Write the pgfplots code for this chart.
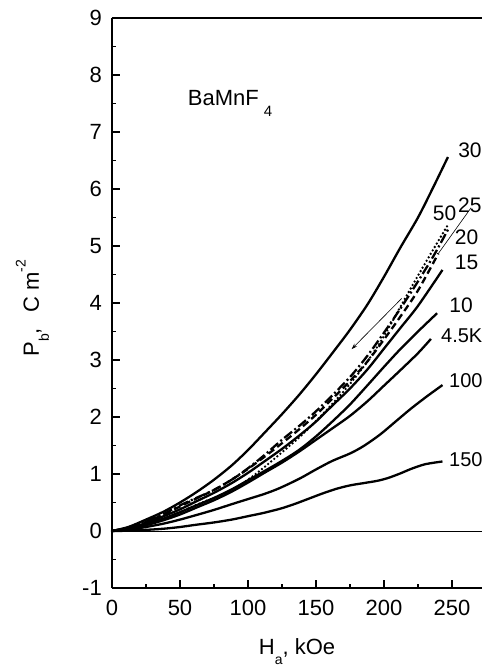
\documentclass[border=0pt]{standalone}
\usepackage{fontspec}
\setmainfont{Liberation Sans}
\usepackage{pgfplots}
\pgfplotsset{compat=1.18}
\usetikzlibrary{arrows.meta}
\newcommand\lsub[1]{\raisebox{-0.45em}{\fontsize{14}{14}\selectfont #1}}
\newcommand\lsup[1]{\raisebox{0.6em}{\fontsize{14}{14}\selectfont #1}}
\begin{document}
\fontsize{22}{26}\selectfont
\begin{tikzpicture}
\begin{axis}[
  at={(0,0)}, anchor=south west,
  scale only axis, width=370pt, height=570pt,
  xmin=0, xmax=272.06, ymin=-1, ymax=9,
  axis x line*=bottom, axis y line*=left,
  axis line style={line width=1.1pt, -},
  xtick={0,50,...,250}, ytick={-1,0,...,9},
  minor x tick num=1, minor y tick num=1,
  major tick length=8pt, minor tick length=4pt,
  every tick/.style={line width=1.1pt, black},
  tick label style={font=\fontsize{22}{22}\selectfont},
  /pgf/number format/assume math mode=true,
  yticklabel style={inner sep=0pt, xshift=-10pt},
  xticklabel style={inner sep=0pt, yshift=-12pt},
  xlabel={H\lsub{a}, kOe},
  ylabel={P\lsub{b},\hspace{0.7em}C m\lsup{-2}},
  xlabel style={at={(axis description cs:0.5,-0.112)}, anchor=center},
  ylabel style={at={(axis description cs:-0.215,0.491)}, anchor=center},
  clip=false,
  tick align=inside,
  every axis plot/.append style={line width=2.3pt, black, smooth, tension=0.5, no marks},
]
% zero line
\addplot[line width=0.9pt, sharp plot] coordinates {(0,0) (272.06,0)};
% 30 K
\addplot[] coordinates {(0,0)(12,0.07)(25,0.2)(38,0.34)(50,0.5)(62,0.68)(75,0.9)(88,1.15)(100,1.42)(112,1.72)(125,2.05)(138,2.4)(150,2.75)(162,3.12)(175,3.53)(188,3.98)(200,4.46)(212,4.97)(225,5.5)(236,6.02)(247,6.56)};
% 50 K dotted
\addplot[line cap=round, dash pattern=on 0pt off 4pt, line width=2.6pt] coordinates {(0,0)(12,0.04)(25,0.11)(38,0.21)(50,0.33)(62,0.46)(75,0.58)(88,0.72)(100,0.9)(112,1.12)(125,1.38)(138,1.65)(150,1.93)(162,2.23)(175,2.58)(188,2.98)(200,3.42)(212,3.93)(225,4.48)(236,4.93)(247,5.37)};
% 25 K dash-dot
\addplot[dash pattern=on 10pt off 3pt on 2pt off 3pt] coordinates {(0,0)(12,0.06)(25,0.17)(38,0.3)(50,0.45)(62,0.58)(75,0.72)(88,0.9)(100,1.1)(112,1.33)(125,1.6)(138,1.85)(150,2.1)(162,2.38)(175,2.7)(188,3.08)(200,3.48)(212,3.9)(225,4.38)(237,4.85)(248,5.33)};
% 20 K dashed
\addplot[dash pattern=on 7pt off 4pt] coordinates {(0,0)(12,0.06)(25,0.16)(38,0.29)(50,0.43)(62,0.57)(75,0.72)(88,0.9)(100,1.09)(112,1.3)(125,1.54)(138,1.79)(150,2.04)(162,2.32)(175,2.63)(188,2.98)(200,3.36)(212,3.76)(225,4.22)(240,4.87)};
% 15 K
\addplot[] coordinates {(0,0)(12,0.05)(25,0.14)(38,0.26)(50,0.38)(62,0.52)(75,0.67)(88,0.84)(100,1.02)(112,1.22)(125,1.44)(138,1.68)(150,1.92)(162,2.2)(175,2.5)(188,2.84)(200,3.2)(212,3.56)(225,3.95)(243,4.58)};
% 10 K
\addplot[] coordinates {(0,0)(12,0.04)(25,0.12)(38,0.22)(50,0.33)(62,0.45)(75,0.58)(88,0.73)(100,0.89)(112,1.05)(125,1.23)(138,1.43)(150,1.66)(162,1.92)(175,2.22)(188,2.56)(200,2.88)(212,3.19)(225,3.5)(239,3.82)};
% 4.5 K
\addplot[] coordinates {(0,0)(12,0.03)(25,0.1)(38,0.19)(50,0.29)(62,0.41)(75,0.54)(88,0.69)(100,0.85)(112,1.02)(125,1.2)(138,1.4)(150,1.6)(162,1.8)(175,2.02)(188,2.28)(200,2.55)(212,2.82)(225,3.12)(234.5,3.37)};
% 100 K
\addplot[] coordinates {(0,0)(12,0.02)(25,0.07)(38,0.13)(50,0.2)(62,0.28)(75,0.37)(88,0.47)(100,0.56)(112,0.65)(123,0.75)(138,0.92)(150,1.08)(162,1.23)(175,1.36)(185,1.49)(197,1.69)(209,1.93)(220,2.15)(232,2.37)(243,2.56)};
% 150 K
\addplot[] coordinates {(0,0)(12,0.005)(25,0.02)(38,0.04)(50,0.07)(62,0.11)(75,0.15)(88,0.2)(100,0.26)(112,0.32)(125,0.4)(135,0.48)(145,0.57)(155,0.66)(165,0.74)(175,0.8)(185,0.84)(195,0.88)(203,0.93)(212,1.01)(220,1.09)(230,1.17)(243,1.22)};
% annotations
\draw[line width=0.6pt] (axis cs:264,5.67) -- (axis cs:240,4.87);
\draw[line width=0.6pt, -{Stealth[length=6pt,width=4pt]}] (axis cs:213,4.08) -- (axis cs:176.2,3.19);
\draw[line width=1.1pt] (rel axis cs:0,1) -- (rel axis cs:1,1);
\begin{scope}[every node/.style={inner sep=0pt, anchor=west, font=\fontsize{21}{21}\selectfont}]
\node at (axis cs:254.5,6.68) {30};
\node at (axis cs:235.8,5.58) {50};
\node at (axis cs:254.4,5.72) {25};
\node at (axis cs:252,5.16) {20};
\node at (axis cs:252,4.71) {15};
\node at (axis cs:248,3.96) {10};
\node[font=\fontsize{20}{20}\selectfont] at (axis cs:241.9,3.43) {4.5K};
\node[font=\fontsize{20}{20}\selectfont] at (axis cs:247.8,2.64) {100};
\node[font=\fontsize{20}{20}\selectfont] at (axis cs:247.8,1.25) {150};
\node[anchor=base west, font=\fontsize{22}{22}\selectfont] at (axis cs:55.7,7.47) {BaMnF\hspace{5pt}\raisebox{-11pt}{\fontsize{15}{15}\selectfont 4}};
\end{scope}
\end{axis}
\pgfresetboundingbox
\path[use as bounding box] (-112pt,-81pt) rectangle (370pt,588pt);
\end{tikzpicture}
\end{document}
